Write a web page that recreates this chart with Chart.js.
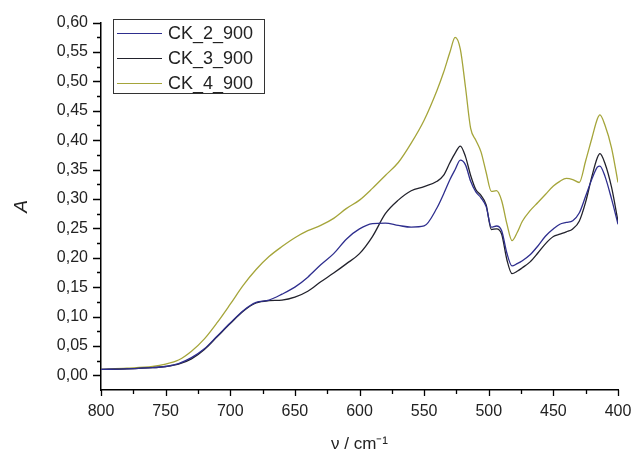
<!DOCTYPE html>
<html>
<head>
<meta charset="utf-8">
<script src="https://cdn.jsdelivr.net/npm/chart.js@4/dist/chart.umd.min.js"></script>
<style>
  html, body { margin: 0; padding: 0; background: #fff; }
  #wrap { width: 634px; height: 455px; }
</style>
</head>
<body>
<div id="wrap"><canvas id="chart1"></canvas></div>
<script>
// wavenumbers (cm-1), shared by all spectra
const wavenumbers = [800, 780, 760, 750, 740, 730, 720, 710, 700, 690, 680, 670, 660, 650, 640, 630, 620, 610, 600, 590,
  580, 570, 560, 550, 540, 535, 530, 526, 522, 518, 514, 510, 506, 502, 498, 494, 490, 486, 482, 478,
  474, 468, 462, 456, 450, 445, 440, 435, 430, 425, 420, 416, 414, 410, 405, 400];

const ck2 = [0.010, 0.011, 0.013, 0.015, 0.020, 0.030, 0.045, 0.067, 0.089, 0.110, 0.124, 0.128, 0.138, 0.150, 0.167, 0.188, 0.207, 0.232, 0.249, 0.258,
  0.259, 0.255, 0.252, 0.254, 0.285, 0.308, 0.333, 0.350, 0.366, 0.358, 0.330, 0.312, 0.302, 0.287, 0.252, 0.254, 0.246, 0.208, 0.186, 0.190,
  0.195, 0.205, 0.220, 0.237, 0.249, 0.257, 0.260, 0.263, 0.276, 0.305, 0.335, 0.354, 0.356, 0.338, 0.300, 0.257];

const ck3 = [0.010, 0.011, 0.013, 0.015, 0.019, 0.028, 0.044, 0.066, 0.088, 0.109, 0.123, 0.127, 0.128, 0.133, 0.143, 0.159, 0.174, 0.190, 0.207, 0.236,
  0.275, 0.298, 0.314, 0.321, 0.330, 0.340, 0.362, 0.378, 0.390, 0.372, 0.340, 0.316, 0.306, 0.290, 0.248, 0.249, 0.240, 0.197, 0.173, 0.177,
  0.183, 0.193, 0.208, 0.224, 0.236, 0.240, 0.244, 0.249, 0.262, 0.295, 0.340, 0.370, 0.377, 0.360, 0.320, 0.262];

const ck4 = [0.010, 0.012, 0.015, 0.019, 0.026, 0.041, 0.062, 0.090, 0.121, 0.153, 0.180, 0.202, 0.219, 0.234, 0.246, 0.255, 0.267, 0.284, 0.298, 0.318,
  0.340, 0.362, 0.395, 0.434, 0.485, 0.515, 0.550, 0.575, 0.555, 0.490, 0.420, 0.400, 0.380, 0.345, 0.313, 0.314, 0.297, 0.258, 0.229, 0.243,
  0.262, 0.280, 0.294, 0.308, 0.322, 0.330, 0.335, 0.333, 0.328, 0.365, 0.405, 0.436, 0.443, 0.425, 0.387, 0.328];

const seriesNames = ['CK_2_900', 'CK_3_900', 'CK_4_900'];
const seriesColors = ['#2e2e8e', '#22222c', '#a5a53a'];
const yTicks = [0, 0.05, 0.10, 0.15, 0.20, 0.25, 0.30, 0.35, 0.40, 0.45, 0.50, 0.55, 0.60];

function pts(vals) {
    return wavenumbers.map((w, i) => ({ x: w, y: vals[i] }));
}

// kleine und große Striche nach außen
const tickMarks = {
    id: 'tickMarks',
    afterDraw(chart) {
        const ctx = chart.ctx;
        const xs = chart.scales.x, ys = chart.scales.y;
        const area = chart.chartArea;
        ctx.save();
        ctx.strokeStyle = '#000';
        ctx.lineWidth = 1.3;
        ctx.beginPath();
        for (let v = 0; v <= 0.6001; v += 0.025) {
            const y = Math.round(ys.getPixelForValue(v)) + 0.5;
            const major = Math.round(v / 0.025) % 2 === 0;
            ctx.moveTo(area.left, y);
            ctx.lineTo(area.left - (major ? 8 : 4), y);
        }
        for (let w = 400; w <= 800; w += 25) {
            const x = Math.round(xs.getPixelForValue(w)) + 0.5;
            const major = w % 50 === 0;
            ctx.moveTo(x, area.bottom);
            ctx.lineTo(x, area.bottom + (major ? 6 : 4));
        }
        ctx.stroke();
        ctx.restore();
    }
};

// Legende im Diagramm
const boxLegend = {
    id: 'boxLegend',
    afterDraw(chart) {
        const ctx = chart.ctx;
        const left = 113.5, top = 19.5, w = 151, h = 74;
        ctx.save();
        ctx.fillStyle = '#fff';
        ctx.fillRect(left, top, w, h);
        ctx.strokeStyle = '#333';
        ctx.lineWidth = 1;
        ctx.strokeRect(left, top, w, h);
        ctx.font = '18px "Liberation Sans", Arial, sans-serif';
        ctx.textBaseline = 'middle';
        chart.data.datasets.forEach((ds, i) => {
            const y = 33 + i * 25;
            ctx.strokeStyle = ds.borderColor;
            ctx.lineWidth = 1.2;
            ctx.beginPath();
            ctx.moveTo(117, y + 0.5);
            ctx.lineTo(162, y + 0.5);
            ctx.stroke();
            ctx.fillStyle = '#222';
            ctx.fillText(ds.label, 168, y + 1);
        });
        ctx.restore();
    }
};

const ctx = document.getElementById('chart1').getContext('2d');
const lineChart = new Chart(ctx, {
    type: 'line',
    data: {
        datasets: seriesNames.map((name, i) => ({
            label: name,
            data: pts([ck2, ck3, ck4][i]),
            borderColor: seriesColors[i],
            borderWidth: 1.3,
            pointRadius: 0,
            cubicInterpolationMode: 'monotone',
            fill: false
        }))
    },
    options: {
        responsive: true,
        maintainAspectRatio: false,
        animation: false,
        layout: { padding: { left: 0, right: 16, top: 18, bottom: 0 } },
        scales: {
            x: {
                type: 'linear',
                reverse: true,
                min: 400,
                max: 800,
                afterFit: s => { s.height = 65; s.paddingLeft = 0; s.paddingRight = 0; },
                grid: { display: false, drawTicks: false },
                border: { display: true, color: '#000', width: 1.5 },
                ticks: {
                    stepSize: 50,
                    padding: 12,
                    color: '#222',
                    font: { family: '"Liberation Sans", Arial, sans-serif', size: 16 }
                },
                title: {
                    display: true,
                    text: 'ν / cm⁻¹',
                    color: '#222',
                    padding: { top: 4, bottom: 0 },
                    font: { family: '"Liberation Sans", Arial, sans-serif', size: 17 }
                }
            },
            y: {
                min: -0.025,
                max: 0.6,
                afterFit: s => { s.width = 101; },
                afterBuildTicks: s => { s.ticks = yTicks.map(v => ({ value: v })); },
                grid: { display: false, drawTicks: false },
                border: { display: true, color: '#000', width: 1.5 },
                ticks: {
                    padding: 13,
                    color: '#222',
                    font: { family: '"Liberation Sans", Arial, sans-serif', size: 16 },
                    callback: v => v.toFixed(2).replace('.', ',')
                },
                title: {
                    display: true,
                    text: 'A',
                    color: '#222',
                    padding: { top: 10, bottom: 0 },
                    font: { family: '"Liberation Sans", Arial, sans-serif', size: 19, style: 'italic' }
                }
            }
        },
        plugins: {
            legend: { display: false },
            tooltip: { enabled: false }
        }
    },
    plugins: [tickMarks, boxLegend]
});
</script>
</body>
</html>
